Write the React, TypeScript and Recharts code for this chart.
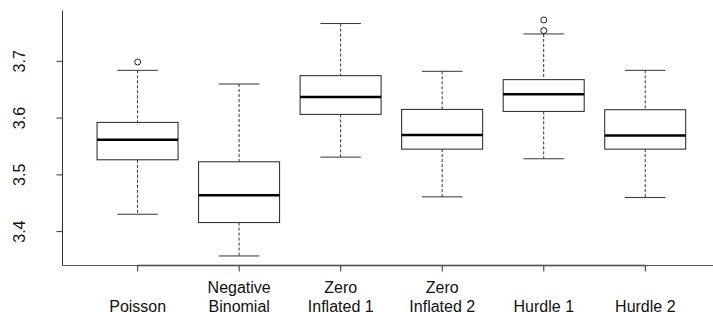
import {
  ComposedChart,
  Bar,
  Scatter,
  XAxis,
  YAxis,
  ReferenceLine,
} from "recharts";

const categories = [
  "Poisson",
  "Negative\nBinomial",
  "Zero\nInflated 1",
  "Zero\nInflated 2",
  "Hurdle 1",
  "Hurdle 2",
];

const lowWhisker = [3.4306, 3.3571, 3.5312, 3.4612, 3.5283, 3.46];
const q1 = [3.5265, 3.4159, 3.6065, 3.5453, 3.6118, 3.5453];
const median = [3.5618, 3.4641, 3.637, 3.57, 3.6418, 3.5694];
const q3 = [3.5924, 3.523, 3.6747, 3.6153, 3.6677, 3.6147];
const highWhisker = [3.6841, 3.66, 3.7665, 3.6824, 3.7482, 3.6841];
const outlierA = [3.6988, null, null, null, 3.7541, null];
const outlierB = [null, null, null, null, 3.7729, null];

const yTicks = [3.4, 3.5, 3.6, 3.7];
const yDomain = [3.3403, 3.7895];

const data = categories.map((name, i) => ({
  name,
  low: lowWhisker[i],
  q1: q1[i],
  median: median[i],
  q3: q3[i],
  high: highWhisker[i],
  outA: outlierA[i],
  outB: outlierB[i],
}));

const FONT = "'Liberation Sans', Arial, Helvetica, sans-serif";
const LINE = "#333";

function BoxShape(props: any) {
  const { x, y, width, height, payload } = props;
  const { low, high } = payload;
  // map value -> pixel using the bar's own range ends
  const pix = (v: number) => y + ((high - v) / (high - low)) * height;
  const cx = x + width / 2;
  const capHalf = width / 4;
  return (
    <g>
      <line x1={cx} x2={cx} y1={pix(high)} y2={pix(payload.q3)} stroke={LINE} strokeDasharray="3 2" />
      <line x1={cx} x2={cx} y1={pix(payload.q1)} y2={pix(low)} stroke={LINE} strokeDasharray="3 2" />
      <line x1={cx - capHalf} x2={cx + capHalf} y1={pix(high)} y2={pix(high)} stroke={LINE} />
      <line x1={cx - capHalf} x2={cx + capHalf} y1={pix(low)} y2={pix(low)} stroke={LINE} />
      <rect
        x={x}
        y={pix(payload.q3)}
        width={width}
        height={pix(payload.q1) - pix(payload.q3)}
        fill="#fff"
        stroke="#222"
      />
      <line x1={x} x2={x + width} y1={pix(payload.median)} y2={pix(payload.median)} stroke="#000" strokeWidth={2.5} />
    </g>
  );
}

function OutlierShape(props: any) {
  const { cx, cy } = props;
  if (cy == null || isNaN(cy)) return <g />;
  return <circle cx={cx} cy={cy} r={3} fill="none" stroke="#222" />;
}

function XTick(props: any) {
  const { x, y, payload } = props;
  const lines = String(payload.value).split("\n");
  const base = y + 40;
  return (
    <g>
      {lines.map((t, i) => (
        <text
          key={i}
          x={x}
          y={base - (lines.length - 1 - i) * 19}
          textAnchor="middle"
          fontSize={16}
          fontFamily={FONT}
          fill="#111"
        >
          {t}
        </text>
      ))}
    </g>
  );
}

function YTick(props: any) {
  const { y, payload } = props;
  return (
    <text
      x={25}
      y={y}
      transform={`rotate(-90, 25, ${y})`}
      textAnchor="middle"
      fontSize={16}
      fontFamily={FONT}
      fill="#111"
    >
      {payload.value.toFixed(1)}
    </text>
  );
}

export default function App() {
  return (
    <div
      style={{
        position: "absolute",
        left: 0,
        top: 0,
        width: 713,
        height: 312,
        overflow: "hidden",
        background: "#fff",
      }}
    >
      <ComposedChart
        width={722}
        height={312}
        data={data}
        margin={{ top: 10.5, right: 1.5, bottom: 0, left: 0 }}
        barCategoryGap="10%"
      >
        <XAxis
          dataKey="name"
          type="category"
          allowDuplicatedCategory={false}
          padding={{ left: 24.4, right: 24.4 }}
          height={46.5}
          tickSize={6}
          tickMargin={0}
          tickLine={{ stroke: LINE }}
          axisLine={{ stroke: "#555" }}
          tick={<XTick />}
          interval={0}
        />
        <XAxis
          xAxisId="top"
          orientation="top"
          dataKey="name"
          height={0}
          tick={false}
          tickLine={false}
          axisLine={{ stroke: "#444" }}
        />
        <YAxis
          type="number"
          domain={yDomain}
          ticks={yTicks}
          allowDataOverflow
          width={62.5}
          tickSize={6}
          tickMargin={0}
          tickLine={{ stroke: LINE }}
          axisLine={{ stroke: "#333" }}
          tick={<YTick />}
        />
        <ReferenceLine
          segment={[
            { x: categories[0], y: yDomain[0] },
            { x: categories[categories.length - 1], y: yDomain[0] },
          ]}
          stroke="#222"
          strokeWidth={1.5}
          ifOverflow="visible"
        />
        <Bar
          dataKey={(d: any) => [d.low, d.high]}
          shape={<BoxShape />}
          isAnimationActive={false}
        />
        <Scatter dataKey="outA" shape={<OutlierShape />} isAnimationActive={false} />
        <Scatter dataKey="outB" shape={<OutlierShape />} isAnimationActive={false} />
      </ComposedChart>
    </div>
  );
}
